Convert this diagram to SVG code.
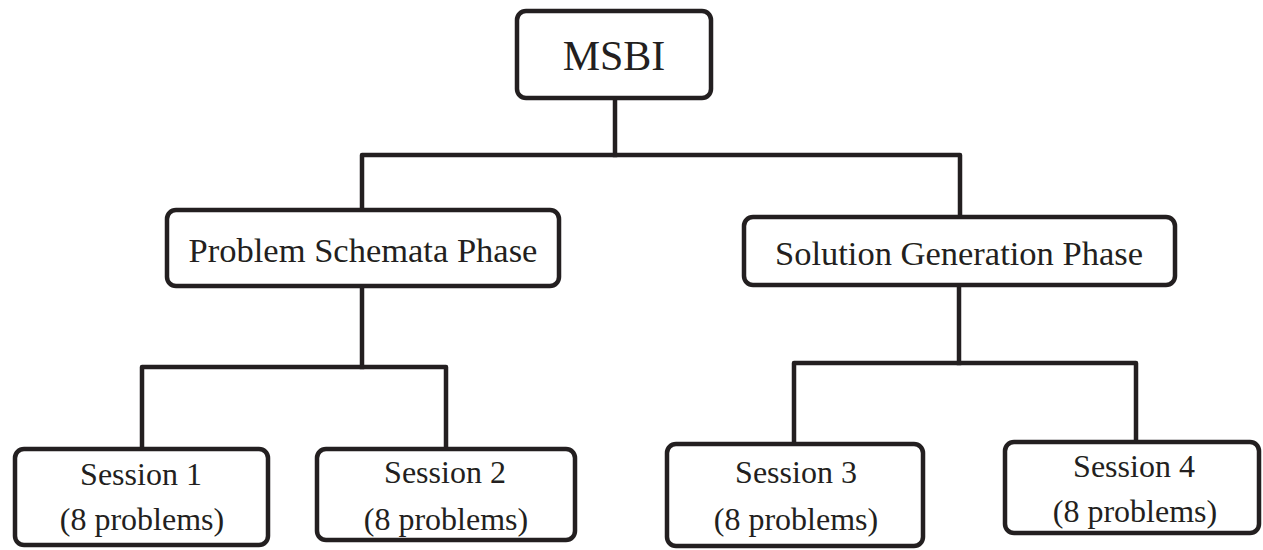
<svg xmlns="http://www.w3.org/2000/svg" width="1263" height="550" viewBox="0 0 1263 550">
<style>
.box{fill:#fff;stroke:#231f20;stroke-width:4.5}
.ln{fill:none;stroke:#231f20;stroke-width:4.5;stroke-linejoin:round;stroke-linecap:square}
text{font-family:"Liberation Serif","Times New Roman",serif;fill:#231f20;text-anchor:middle}
.t1{font-size:42px}
.t2{font-size:34.5px}
.t3{font-size:32px}
</style>
<rect width="1263" height="550" fill="#fff"/>
<g id="connectors">
<path class="ln" d="M615,100 V155"/>
<path class="ln" d="M362,208 V155 H960 V215"/>
<path class="ln" d="M362,288 V367"/>
<path class="ln" d="M142,447 V367 H446 V447"/>
<path class="ln" d="M959,287 V363"/>
<path class="ln" d="M794,442 V363 H1136 V440"/>
</g>
<g id="msbi">
<rect class="box" x="517" y="11" width="194" height="87" rx="9"/>
<text class="t1" x="614" y="70">MSBI</text>
</g>
<g id="problem-schemata">
<rect class="box" x="167" y="210" width="392" height="76" rx="9"/>
<text class="t2" x="363" y="262">Problem Schemata Phase</text>
</g>
<g id="solution-generation">
<rect class="box" x="744" y="217" width="431" height="68" rx="9"/>
<text class="t2" x="959" y="265">Solution Generation Phase</text>
</g>
<g id="session1">
<rect class="box" x="15" y="449" width="253" height="96" rx="9"/>
<text class="t3" x="141" y="485">Session 1</text>
<text class="t3" x="142" y="530">(8 problems)</text>
</g>
<g id="session2">
<rect class="box" x="317" y="449" width="258" height="91" rx="9"/>
<text class="t3" x="445" y="483">Session 2</text>
<text class="t3" x="446" y="530">(8 problems)</text>
</g>
<g id="session3">
<rect class="box" x="667" y="444" width="256" height="102" rx="9"/>
<text class="t3" x="796" y="483">Session 3</text>
<text class="t3" x="796" y="530">(8 problems)</text>
</g>
<g id="session4">
<rect class="box" x="1005" y="442" width="254" height="91" rx="9"/>
<text class="t3" x="1134" y="477">Session 4</text>
<text class="t3" x="1135" y="522">(8 problems)</text>
</g>
</svg>
